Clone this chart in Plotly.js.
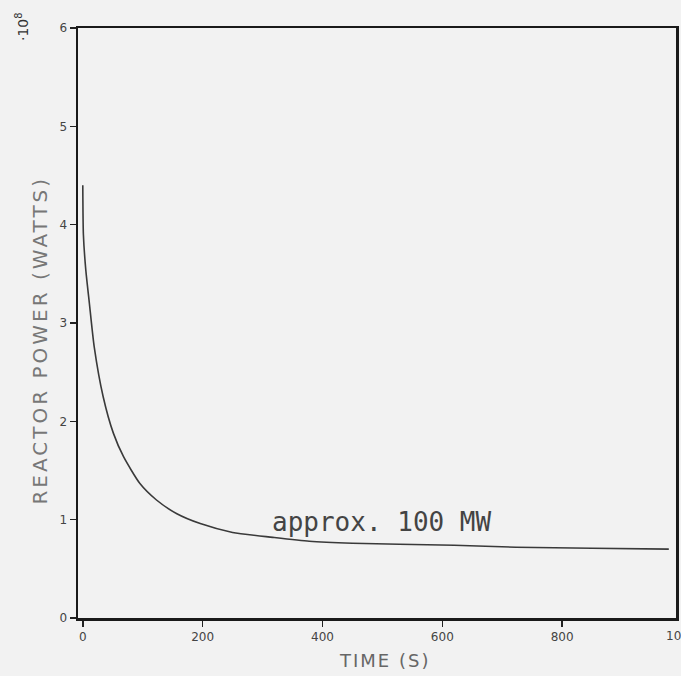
<!DOCTYPE html>
<html>
<head>
<meta charset="utf-8">
<script src="https://cdn.plot.ly/plotly-3.0.1.min.js"></script>
<style>
  html, body { margin: 0; padding: 0; background: #f2f2f2; }
  #chart { width: 681px; height: 676px; }
  g.annotation[data-index="2"] text { letter-spacing: 2px; }
  g.annotation[data-index="3"] text { letter-spacing: 3px; }
</style>
</head>
<body>
<div id="chart"></div>
<script>
// Data (time in s, power in units of 10^8 W)
const time  = [0, 1, 5, 11, 19, 34, 51, 68, 95, 123, 157, 196, 250, 317, 378, 450, 528, 620, 723, 850, 978];
const power = [4.40, 3.90, 3.54, 3.20, 2.76, 2.25, 1.88, 1.64, 1.37, 1.20, 1.06, 0.96, 0.87, 0.82, 0.78, 0.76, 0.75, 0.74, 0.72, 0.71, 0.70];

const xTickVals = [0, 200, 400, 600, 800];
const xTickText = ['0', '200', '400', '600', '800'];
const xEdgeLabel = '1000';
const yTickVals = [0, 1, 2, 3, 4, 5, 6];
const yTickText = ['0', '1', '2', '3', '4', '5', '6'];

const labelFont = { family: 'DejaVu Sans, sans-serif', size: 12, color: '#444' };

const trace = {
  x: time, y: power, type: 'scatter', mode: 'lines',
  line: { color: '#3a3a3a', width: 1.6, shape: 'spline', smoothing: 0.6 },
  hoverinfo: 'skip', showlegend: false
};

const layout = {
  width: 681, height: 676,
  margin: { l: 78, r: 5, t: 28, b: 58 },
  paper_bgcolor: '#f2f2f2', plot_bgcolor: '#f2f2f2',
  showlegend: false,
  xaxis: {
    range: [-8, 990], showgrid: false, zeroline: false,
    showline: true, linecolor: '#1a1a1a', linewidth: 2.5, mirror: true,
    ticks: 'outside', ticklen: 6, tickwidth: 1.5, tickcolor: '#222',
    tickvals: xTickVals, ticktext: xTickText, tickfont: labelFont,
    automargin: false
  },
  yaxis: {
    range: [0, 6], showgrid: false, zeroline: false,
    showline: true, linecolor: '#1a1a1a', linewidth: 2.5, mirror: true,
    ticks: 'outside', ticklen: 6, tickwidth: 1.5, tickcolor: '#222',
    tickvals: yTickVals, ticktext: yTickText, tickfont: labelFont,
    automargin: false
  },
  annotations: [
    { xref: 'paper', yref: 'paper', x: 1.01, xanchor: 'center', y: 0, yanchor: 'top', yshift: -9,
      text: xEdgeLabel, showarrow: false, font: labelFont },
    { xref: 'x', yref: 'y', x: 498, y: 0.976, text: 'approx. 100 MW', showarrow: false,
      font: { family: 'DejaVu Sans Mono, monospace', size: 26, color: '#444' } },
    { xref: 'paper', yref: 'paper', x: 0.513, xanchor: 'center', y: 0, yanchor: 'top', yshift: -30,
      text: 'TIME (S)', showarrow: false,
      font: { family: 'DejaVu Sans, sans-serif', size: 18, color: '#666' } },
    { xref: 'paper', yref: 'paper', x: 0, xanchor: 'center', xshift: -38, y: 0.471, yanchor: 'middle',
      text: 'REACTOR POWER (WATTS)', textangle: -90, showarrow: false,
      font: { family: 'DejaVu Sans, sans-serif', size: 20, color: '#777' } },
    { xref: 'paper', yref: 'paper', x: 0, xanchor: 'center', xshift: -56, y: 1, yanchor: 'middle', yshift: 1,
      text: '·10<sup>8</sup>', textangle: -90, showarrow: false,
      font: { family: 'DejaVu Sans, sans-serif', size: 14, color: '#333' } }
  ]
};

Plotly.newPlot('chart', [trace], layout, { staticPlot: true, displayModeBar: false });
</script>
</body>
</html>
